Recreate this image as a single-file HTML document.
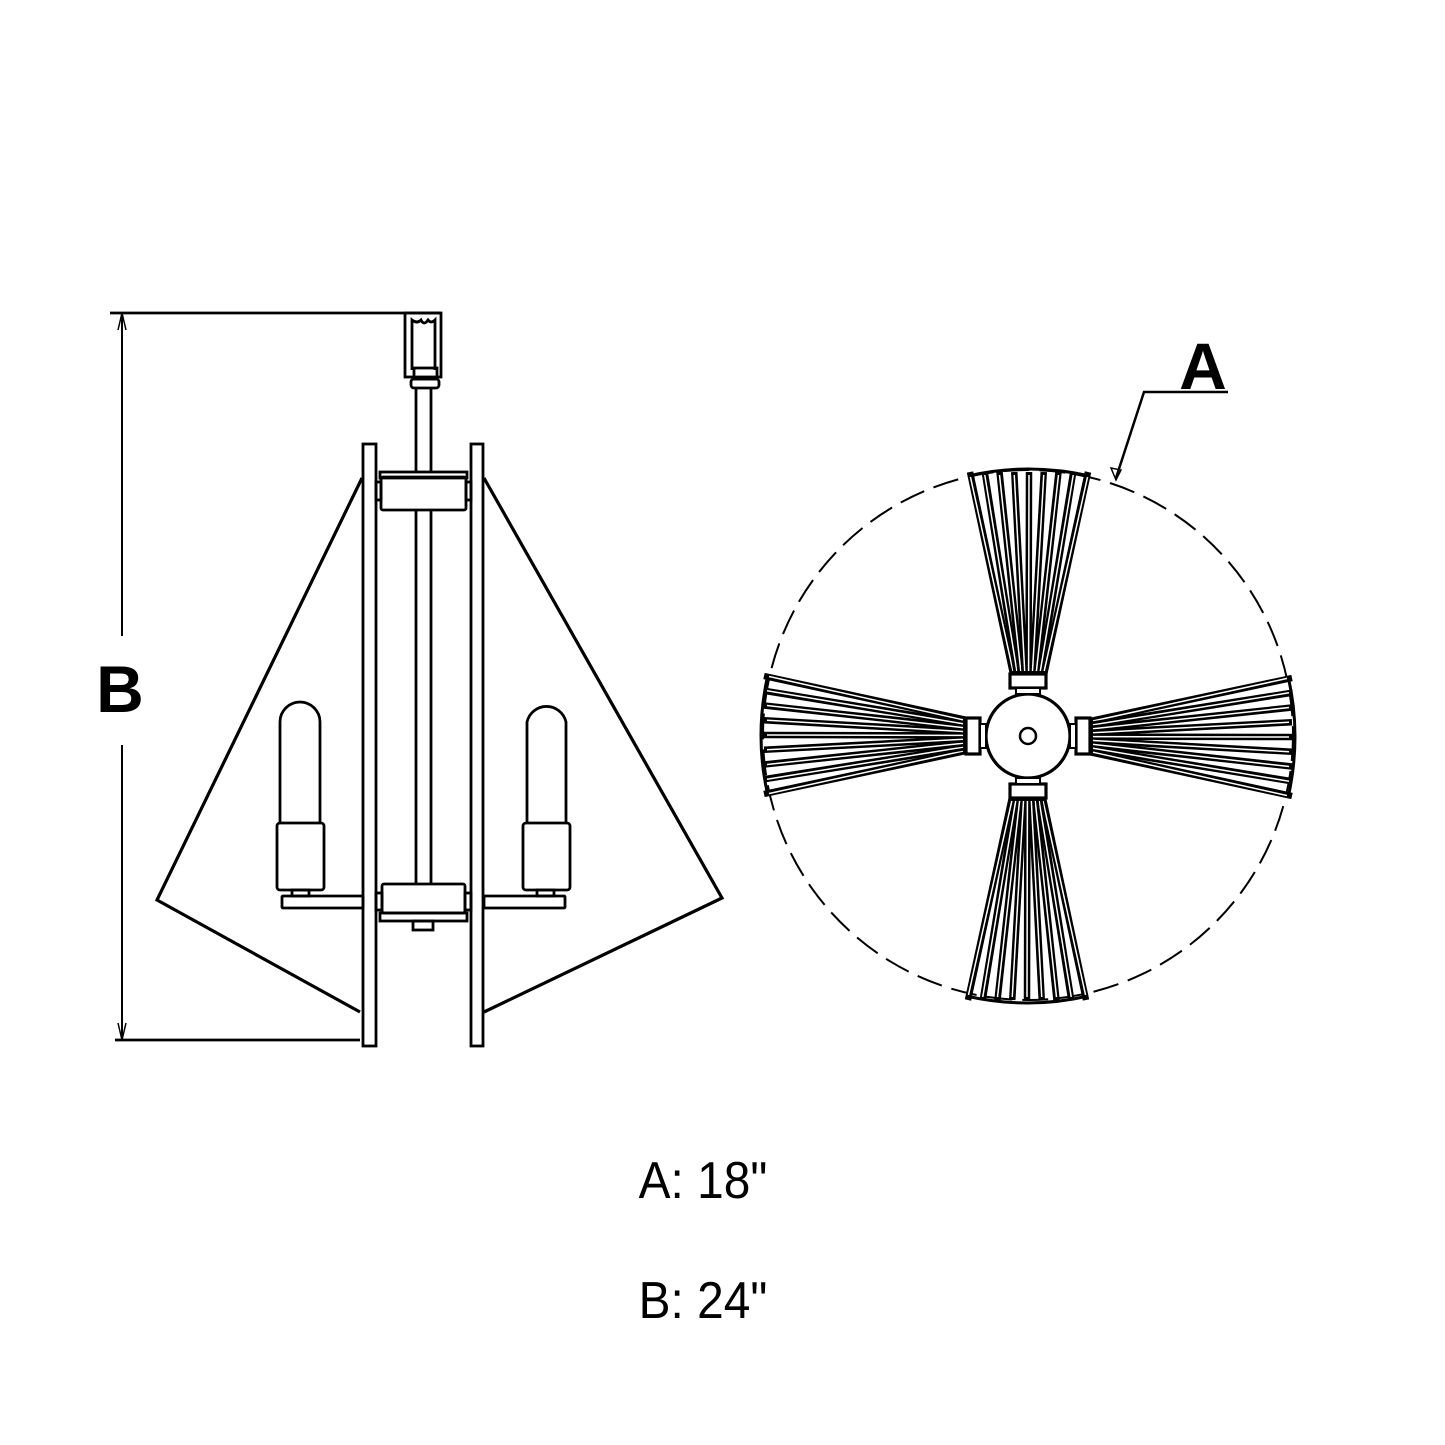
<!DOCTYPE html>
<html><head><meta charset="utf-8"><style>
html,body{margin:0;padding:0;background:#fff}
svg{display:block}
</style></head><body>
<svg id="s" width="1445" height="1445" viewBox="0 0 1445 1445" xmlns="http://www.w3.org/2000/svg">
<g fill="none" stroke="#000" stroke-width="2.8">
<line x1="110" y1="313" x2="440" y2="313"/>
<line x1="115" y1="1040" x2="360" y2="1040"/>
<line x1="122" y1="313" x2="122" y2="636" stroke-width="2"/>
<line x1="122" y1="745" x2="122" y2="1040" stroke-width="2"/>
<path d="M118 330 L122 313 L126 330" stroke-width="1.5"/>
<path d="M118 1023 L122 1040 L126 1023" stroke-width="1.5"/>
<rect x="405" y="313" width="36" height="64"/>
<path d="M412 370 V320 Q417 324 421 320 Q424 326 428 320 Q431 324 435 320 V370"/>
<rect x="414" y="368" width="23" height="11"/>
<rect x="411" y="379" width="28" height="9" rx="3"/>
<line x1="416" y1="388" x2="416" y2="472"/><line x1="431" y1="388" x2="431" y2="472"/>
<line x1="416" y1="509" x2="416" y2="884"/><line x1="431" y1="509" x2="431" y2="884"/>
<rect x="363" y="444" width="13" height="602"/>
<rect x="471" y="444" width="12" height="602"/>
<rect x="381" y="477" width="85" height="33" rx="2"/>
<rect x="380" y="472" width="87" height="6"/>
<rect x="376" y="482" width="5" height="18"/><rect x="466" y="482" width="5" height="18"/>
<rect x="382" y="884" width="83" height="29" rx="2"/>
<rect x="380" y="913" width="87" height="8"/>
<rect x="413" y="921" width="20" height="9"/>
<rect x="376" y="893" width="6" height="17"/><rect x="465" y="893" width="6" height="17"/>
<rect x="282" y="896" width="81" height="12" rx="1"/>
<rect x="484" y="896" width="81" height="12" rx="1"/>
<rect x="277" y="823" width="47" height="67" rx="3"/>
<rect x="292" y="890" width="17" height="6"/>
<path d="M280 823 V722 A20 20 0 0 1 320 722 V823"/>
<rect x="523" y="823" width="47" height="67" rx="3"/>
<rect x="537" y="890" width="17" height="6"/>
<path d="M527 823 V722 A20 20 0 0 1 566 722 V823"/>
<polyline points="362,478 157,900 360,1012" stroke-width="3.2"/>
<polyline points="484,478 722,898 484,1012" stroke-width="3.2"/>
<circle cx="1028" cy="735" r="265" stroke-width="2" stroke-dasharray="26 10"/>
<circle cx="1028" cy="736" r="42" stroke-width="3.2"/>
<circle cx="1028" cy="736" r="8" stroke-width="2.5"/>
<polyline points="1228,392 1144,392 1116,478" stroke-width="2.5"/>
<path d="M1111 468 L1116 480 L1121 470 Z" stroke-width="1.5"/>
</g>
<g id="arms"></g>
<g font-family="'Liberation Sans', sans-serif" fill="#000">
<text x="120" y="712" font-size="66" font-weight="bold" text-anchor="middle">B</text>
<text x="1203" y="389" font-size="66" font-weight="bold" text-anchor="middle">A</text>
<text x="703" y="1198" font-size="52" text-anchor="middle" transform="translate(703 0) scale(0.92 1) translate(-703 0)">A: 18"</text>
<text x="703" y="1318" font-size="52" text-anchor="middle" transform="translate(703 0) scale(0.92 1) translate(-703 0)">B: 24"</text>
</g>
</svg>
<script>
(function(){
var g=document.getElementById("arms");
var cx=1028,cy=736;
function arm(rot){
 var s='<g transform="rotate('+rot+' '+cx+' '+cy+')">';
 for(var i=0;i<9;i++){
  var ox=970+i*14.75, ix=1013+i*3.9;
  s+='<line x1="'+ox+'" y1="472" x2="'+ix+'" y2="674" stroke="#000" stroke-width="6.5"/>';
  s+='<line x1="'+ox+'" y1="475" x2="'+ix+'" y2="671" stroke="#fff" stroke-width="1.5"/>';
 }
 s+='<path d="M968 476 Q1028 462 1090 476" fill="none" stroke="#000" stroke-width="3"/>';
 s+='<rect x="1010" y="674" width="36" height="14" fill="#fff" stroke="#000" stroke-width="3.2"/>';
 s+='<rect x="1016" y="688" width="24" height="6" fill="#fff" stroke="#000" stroke-width="2"/>';
 s+='</g>';
 return s;
}
g.innerHTML=arm(0)+arm(90)+arm(180)+arm(270);
})();
</script>
</body></html>
